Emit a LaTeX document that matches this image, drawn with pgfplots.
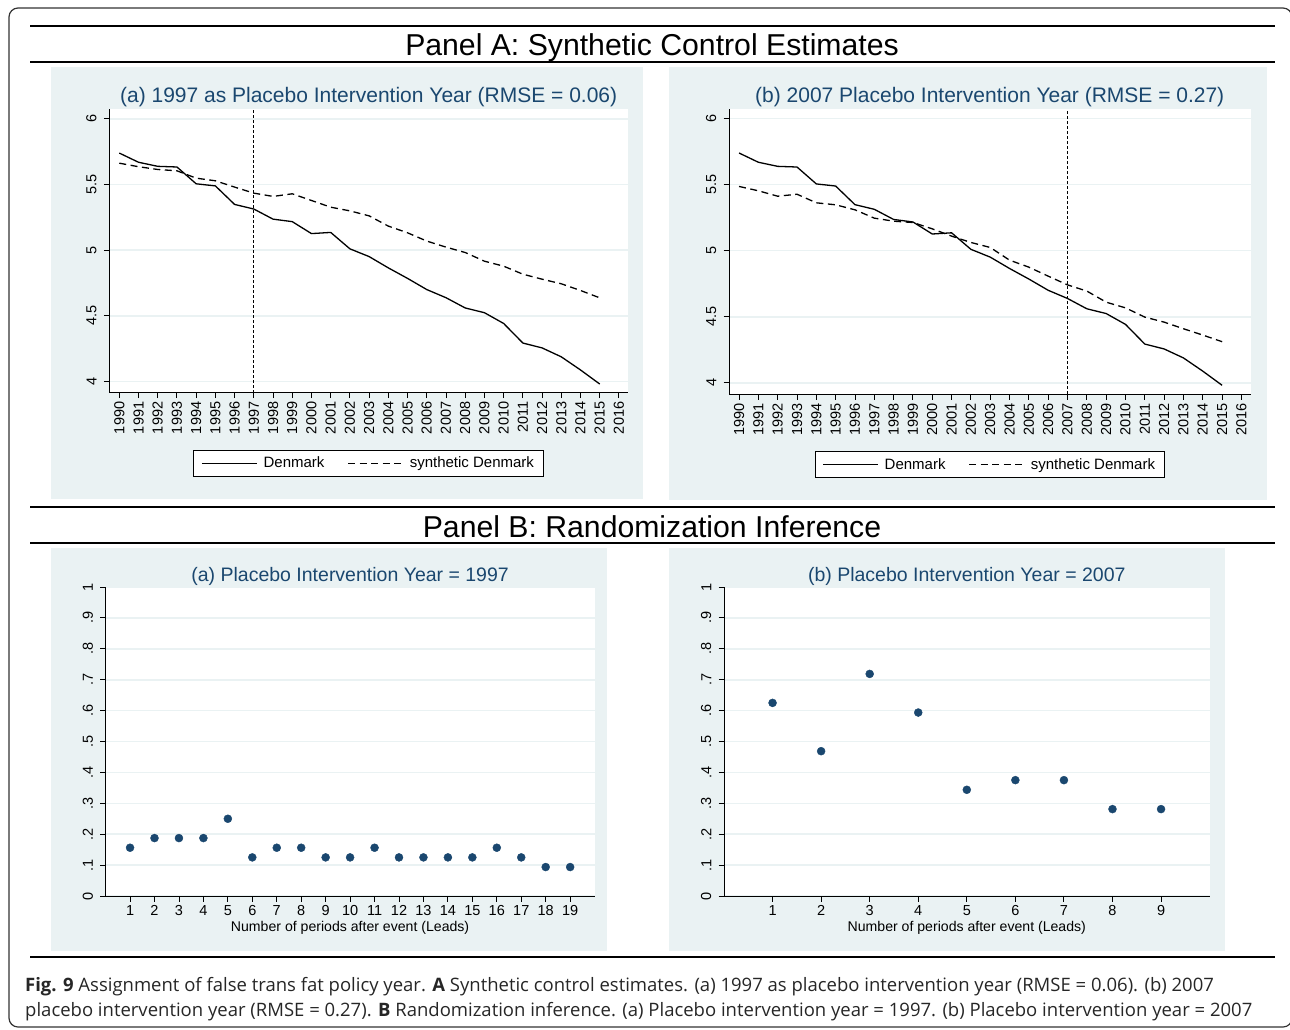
\documentclass[border=0pt]{standalone}
\usepackage{fontspec}
\setmainfont{Liberation Sans}
\newfontfamily\capfont{Open Sans}
\usepackage{pgfplots}
\pgfplotsset{compat=1.18}
\usepackage{pgfplotstable}

\definecolor{statabg}{RGB}{234,242,243}
\definecolor{statanavy}{RGB}{26,71,111}

% Denmark, synthetic Denmark for placebo 1997 (synA) and 2007 (synB)
\pgfplotstableread{
year dk    synA  synB
1990 5.739 5.662 5.486
1991 5.669 5.635 5.453
1992 5.638 5.614 5.412
1993 5.633 5.604 5.427
1994 5.505 5.548 5.362
1995 5.489 5.528 5.347
1996 5.348 5.480 5.309
1997 5.313 5.434 5.246
1998 5.236 5.409 5.223
1999 5.217 5.429 5.213
2000 5.126 5.378 5.165
2001 5.135 5.327 5.110
2002 5.010 5.299 5.062
2003 4.951 5.261 5.024
2004 4.865 5.183 4.928
2005 4.785 5.132 4.875
2006 4.700 5.069 4.807
2007 4.638 5.023 4.741
2008 4.560 4.982 4.694
2009 4.524 4.916 4.610
2010 4.442 4.878 4.567
2011 4.293 4.817 4.497
2012 4.256 4.779 4.459
2013 4.188 4.744 4.409
2014 4.088 4.693 4.361
2015 3.981 4.637 4.311
}\dktable

% randomization inference p-values
\pgfplotstableread{
lead p
1  0.15625
2  0.1875
3  0.1875
4  0.1875
5  0.25
6  0.125
7  0.15625
8  0.15625
9  0.125
10 0.125
11 0.15625
12 0.125
13 0.125
14 0.125
15 0.125
16 0.15625
17 0.125
18 0.09375
19 0.09375
}\riA

\pgfplotstableread{
lead p
1 0.625
2 0.46875
3 0.71875
4 0.59375
5 0.34375
6 0.375
7 0.375
8 0.28125
9 0.28125
}\riB

\pgfplotsset{
  statabase/.style={
    scale only axis, anchor=south west,
    axis x line=bottom, axis y line=left,
    axis line style={-, black, line width=0.9pt},
    tick align=outside, major tick length=5.5pt,
    tick style={black, line width=0.9pt},
    ymajorgrids, grid style={statabg, line width=1.6pt},
    axis background/.style={fill=white},
    /pgf/number format/assume math mode=true,
    /pgf/number format/1000 sep={},
    tick label style={font=\fontsize{14.5}{16}\selectfont},
    yticklabel style={rotate=90, anchor=south, inner ysep=7pt},
    title style={at={(0.5,1)}, anchor=base, text=statanavy},
  },
  panelA/.style={statabase,
    xmin=1989.48, xmax=2016.47, ymin=3.915, ymax=6.072,
    xtick={1990,...,2016}, ytick={4,4.5,5,5.5,6},
    xticklabel style={rotate=90, anchor=east},
    title style={font=\fontsize{21}{24}\selectfont, yshift=1pt},
    legend columns=2,
    legend image code/.code={\draw[##1] (0pt,0pt) -- (55pt,0pt);},
    legend style={at={(0.5,0)}, anchor=north, yshift=-57pt,
      draw=black, line width=0.8pt, fill=white,
      font=\fontsize{15}{17}\selectfont,
      inner xsep=7.5pt, inner ysep=5pt,
      nodes={inner sep=2pt},
      /tikz/every odd column/.append style={column sep=4pt},
      /tikz/every even column/.append style={column sep=21pt}},
  },
  panelB/.style={statabase,
    xmin=0, ymin=0, ymax=1,
    ytick={0,0.1,0.2,0.3,0.4,0.5,0.6,0.7,0.8,0.9,1},
    yticklabels={0,.1,.2,.3,.4,.5,.6,.7,.8,.9,1},
    title style={font=\fontsize{19.5}{22}\selectfont, yshift=0pt},
    xlabel={Number of periods after event (Leads)},
    xlabel style={font=\fontsize{14.1}{16}\selectfont,
      at={(axis description cs:0.5,0)}, anchor=base, yshift=-35.5pt},
  },
  dk/.style={black, line width=1.3pt},
  syn/.style={black, line width=1.3pt, dash pattern=on 7pt off 4.5pt},
  vref/.style={black, line width=0.9pt, dash pattern=on 3pt off 2pt, forget plot},
  dots/.style={only marks, mark=*, mark size=4pt, statanavy},
}

\begin{document}
\begin{tikzpicture}
\begin{scope}[x=1pt,y=-1pt]
  \useasboundingbox (0,0) rectangle (1290,1029);
  \fill[statabg] (51,67) rectangle (643,499);
  \fill[statabg] (669,67) rectangle (1267,500);
  \fill[statabg] (51,548) rectangle (607,951);
  \fill[statabg] (669,548) rectangle (1225,951);
  \draw[line width=2pt] (30,26) -- (1275,26);
  \draw[line width=2pt] (30,62) -- (1275,62);
  \draw[line width=2pt] (30,507) -- (1275,507);
  \draw[line width=2pt] (30,543) -- (1275,543);
  \draw[line width=1.3pt] (30,957) -- (1275,957);
  \draw[line width=1.2pt, black!80, rounded corners=9pt] (9,8) rectangle (1292,1027);
  \node[anchor=base, inner sep=0, font=\fontsize{30.2}{33}\selectfont] at (652,55) {Panel A: Synthetic Control Estimates};
  \node[anchor=base, inner sep=0, font=\fontsize{30.2}{33}\selectfont] at (652,537) {Panel B: Randomization Inference};
  \node[anchor=base west, inner sep=0, text=black!85, font=\capfont\fontsize{18.5}{22}\selectfont] at (25,991)
    {\textbf{Fig. 9} Assignment of false trans fat policy year. \textbf{A} Synthetic control estimates. (a) 1997 as placebo intervention year (RMSE = 0.06). (b) 2007};
  \node[anchor=base west, inner sep=0, text=black!85, font=\capfont\fontsize{18.5}{22}\selectfont] at (25,1016)
    {placebo intervention year (RMSE = 0.27). \textbf{B} Randomization inference. (a) Placebo intervention year = 1997. (b) Placebo intervention year = 2007};
\end{scope}

\begin{axis}[panelA, at={(109.3pt,-392.7pt)}, width=518.7pt, height=283.4pt,
  title={(a) 1997 as Placebo Intervention Year (RMSE = 0.06)}]
  \addplot[dk] table[x=year, y=dk] {\dktable};
  \addplot[syn] table[x=year, y=synA] {\dktable};
  \addplot[vref] coordinates {(1997,3.915) (1997,6.072)};
  \legend{Denmark, synthetic Denmark}
\end{axis}

\begin{axis}[panelA, at={(729pt,-394pt)}, width=521.5pt, height=285pt,
  title={(b) 2007 Placebo Intervention Year (RMSE = 0.27)}]
  \addplot[dk] table[x=year, y=dk] {\dktable};
  \addplot[syn] table[x=year, y=synB] {\dktable};
  \addplot[vref] coordinates {(2007,3.915) (2007,6.072)};
  \legend{Denmark, synthetic Denmark}
\end{axis}

\begin{axis}[panelB, at={(105.6pt,-896pt)}, width=489pt, height=309pt,
  xmax=20, xtick={1,...,19},
  title={(a) Placebo Intervention Year = 1997}]
  \addplot[dots] table[x=lead, y=p] {\riA};
\end{axis}

\begin{axis}[panelB, at={(724pt,-896pt)}, width=485.6pt, height=309pt,
  xmax=10, xtick={1,...,9},
  title={(b) Placebo Intervention Year = 2007}]
  \addplot[dots] table[x=lead, y=p] {\riB};
\end{axis}
\end{tikzpicture}
\end{document}
